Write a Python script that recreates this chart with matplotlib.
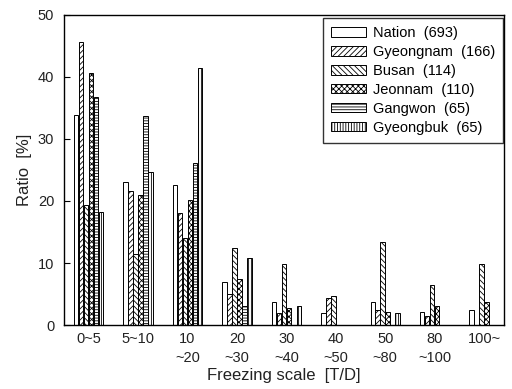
import numpy as np
import matplotlib
matplotlib.use("Agg")
import matplotlib.pyplot as plt

plt.rcParams["font.family"] = ["Liberation Sans", "DejaVu Sans"]
plt.rcParams["hatch.linewidth"] = 0.6

categories = ["0~5", "5~10", "10\n~20", "20\n~30", "30\n~40",
              "40\n~50", "50\n~80", "80\n~100", "100~"]
series_names = ["Nation  (693)", "Gyeongnam  (166)", "Busan  (114)",
                "Jeonnam  (110)", "Gangwon  (65)", "Gyeongbuk  (65)"]

nation = [33.9, 23.1, 22.5, 6.9, 3.7, 2.0, 3.7, 2.1, 2.4]
gyeongnam = [45.7, 21.6, 18.1, 5.0, 1.9, 4.4, 2.4, 1.5, 0.0]
busan = [19.3, 11.4, 14.1, 12.5, 9.9, 4.6, 13.4, 6.4, 9.9]
jeonnam = [40.7, 20.9, 20.1, 7.4, 2.7, 0.0, 2.1, 3.0, 3.7]
gangwon = [36.7, 33.7, 26.2, 3.1, 0.0, 0.0, 0.0, 0.0, 0.0]
gyeongbuk = [18.3, 24.6, 41.5, 10.8, 3.1, 0.0, 1.9, 0.0, 0.0]

series = [nation, gyeongnam, busan, jeonnam, gangwon, gyeongbuk]
hatches = ["", "//////", "\\\\\\\\\\\\", "xxxxxx", "------", "||||||"]

fig = plt.figure(figsize=(5.12, 3.89), dpi=100)
ax = fig.add_axes([0.125, 0.1645, 0.859, 0.797])

x = np.arange(len(categories))
step = 0.101
width = 0.09
for k, (vals, name, h) in enumerate(zip(series, series_names, hatches)):
    ax.bar(x + (k - 2.5) * step, vals, width=width, facecolor="white",
           edgecolor="black", linewidth=0.7, hatch=h, label=name)

ax.set_xlim(-0.5, 8.4)
ax.set_ylim(0, 50)
ax.set_yticks(np.arange(0, 51, 10))
ax.set_xticks(x)
ax.set_xticklabels(categories, fontsize=10.5, color="#222222",
                   linespacing=1.45)
ax.tick_params(axis="x", length=0, pad=5)
ax.tick_params(axis="y", direction="in", length=4, pad=7, labelsize=10.5,
               labelcolor="#222222")
ax.set_ylabel("Ratio  [%]", fontsize=12, color="#222222", labelpad=4)
ax.set_xlabel("Freezing scale  [T/D]", fontsize=12, color="#222222",
              labelpad=2)
for s in ax.spines.values():
    s.set_linewidth(1.0)

leg = ax.legend(loc="upper right", bbox_to_anchor=(0.998, 0.99),
                fontsize=10.5, frameon=True, fancybox=False,
                edgecolor="black", handlelength=2.4, handleheight=0.6,
                handletextpad=0.45, labelspacing=0.34, borderpad=0.55,
                borderaxespad=0.0)
leg.get_frame().set_linewidth(1.0)

fig.savefig("out.png", dpi=100)
